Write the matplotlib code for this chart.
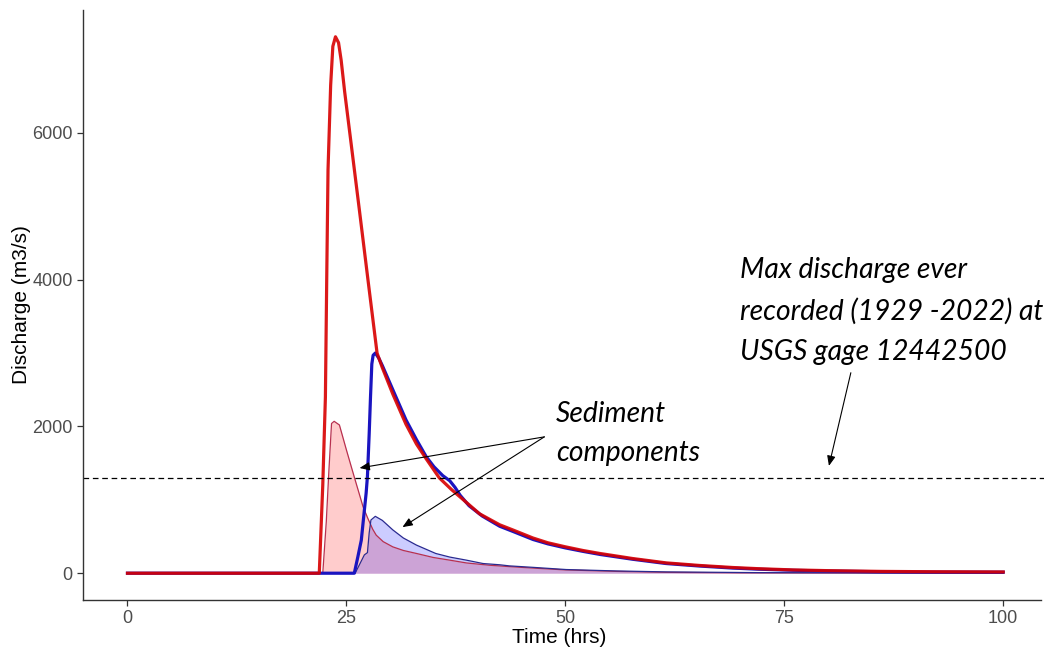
import matplotlib
matplotlib.use("Agg")
import matplotlib.pyplot as plt
import numpy as np

# ---- data ----
red_t = [0, 21.9, 22.3, 22.6, 22.75, 22.9, 23.2, 23.45, 23.75, 24.1, 24.4, 24.8, 25.5,
         26.5, 27.5, 28.0, 28.5, 29.1, 30.3, 31.8, 33.0, 34.1, 35.6, 37.0, 38.6, 40.2,
         42.5, 44.0, 46.3, 48.0, 50.0, 52.0, 53.9, 57.7, 61.5, 65.3, 69.1, 72.0, 76.0, 80.0,
         86.0, 92.0, 100.0]
red_q = [0, 0, 1200, 2400, 4000, 5500, 6650, 7180, 7310, 7230, 6990, 6560, 5890,
         4930, 3960, 3480, 3000, 2800, 2440, 2030, 1760, 1560, 1300, 1140, 975, 810,
         660, 590, 480, 415, 360, 310, 270, 200, 141, 106, 78, 62, 45, 35,
         25, 20, 17]

blue_t = [0, 25.9, 26.3, 26.7, 27.05, 27.25, 27.4, 27.6, 27.75, 27.9, 28.05, 28.3, 28.7,
          29.1, 30.3, 31.8, 33.0, 34.1, 35.0, 36.0, 36.8, 37.4, 38.0, 39.0, 40.5, 42.5,
          44.0, 46.3, 48.0, 50.0, 52.0, 54.0, 57.7, 61.5, 65.3, 69.1, 72.0, 76.0, 80.0,
          86.0, 92.0, 100.0]
blue_q = [0, 0, 220, 450, 860, 1090, 1320, 1900, 2400, 2850, 2970, 3000, 2930,
          2830, 2500, 2090, 1820, 1590, 1450, 1330, 1260, 1170, 1060, 920, 780, 640,
          570, 460, 400, 345, 298, 255, 190, 132, 98, 70, 55, 40, 30,
          20, 16, 14]

red_sed_t = [0, 22.3, 22.7, 23.0, 23.3, 23.6, 24.2, 25.0, 25.9, 26.9, 27.4, 28.0, 28.4, 29.2,
             30.3, 31.5, 33.0, 34.9, 36.8, 38.7, 41.3, 43.6, 46.3, 50.0, 55.8, 61.5, 70.0, 100.0]
red_sed_q = [0, 0, 700, 1400, 2040, 2070, 2020, 1680, 1310, 906, 760, 600, 519, 430,
             359, 310, 269, 215, 178, 140, 109, 90, 70, 45, 25, 12, 5, 0]

blue_sed_t = [0, 26.0, 27.05, 27.4, 27.6, 27.8, 28.3, 29.1, 30.3, 31.5, 33.0, 35.2, 36.8,
              38.7, 40.6, 42.5, 43.6, 46.3, 50.1, 55.8, 61.5, 72.0, 100.0]
blue_sed_q = [0, 0, 250, 280, 550, 725, 775, 720, 590, 480, 383, 269, 220,
              178, 132, 115, 100, 80, 50, 31, 18, 8, 0]

max_recorded = 1300

x_ticks = [0, 25, 50, 75, 100]
y_ticks = [0, 2000, 4000, 6000]

# ---- figure ----
W, H = 1044, 652
fig = plt.figure(figsize=(W / 100, H / 100), dpi=100)
ax = fig.add_axes([83 / W, 52 / H, (1047 - 83) / W, (600 - 10) / H])

ax.fill_between(red_sed_t, red_sed_q, 0, color="#ff0000", alpha=0.2, linewidth=0)
ax.fill_between(blue_sed_t, blue_sed_q, 0, color="#0000ff", alpha=0.2, linewidth=0)
ax.plot(red_sed_t, red_sed_q, color="#b8304f", lw=0.9)
ax.plot(blue_sed_t, blue_sed_q, color="#2a2a90", lw=0.9)

ax.plot(blue_t, blue_q, color="#1a14c0", lw=2.3, solid_joinstyle="round")
ax.plot(red_t, red_q, color="#d80000", lw=2.3, alpha=0.9, solid_joinstyle="round")

ax.axhline(max_recorded, color="black", lw=0.9, ls=(0, (4.5, 3)))

ax.set_xlim(-5.08, 105)
ax.set_ylim(-365, 7675)
ax.set_xticks(x_ticks)
ax.set_yticks(y_ticks)
ax.set_xticklabels([str(v) for v in x_ticks])
ax.set_yticklabels([str(v) for v in y_ticks])

for s in ["top", "right"]:
    ax.spines[s].set_visible(False)
for s in ["left", "bottom"]:
    ax.spines[s].set_color("#333333")
    ax.spines[s].set_linewidth(1.0)
ax.spines["bottom"].set_bounds(-5.08, 104.3)
ax.tick_params(axis="both", length=4, width=0.9, color="#333333",
               labelcolor="#4d4d4d", labelsize=13)
for lab in ax.get_xticklabels() + ax.get_yticklabels():
    lab.set_fontfamily("Liberation Sans")

ax.set_xlabel("Time (hrs)", fontsize=15, family="Liberation Sans")
ax.xaxis.set_label_coords((559 - 83) / (1047 - 83), -0.047)
ax.set_ylabel("Discharge (m3/s)", fontsize=15, family="Liberation Sans", labelpad=1)

anno_font = dict(family="Lato", style="italic", fontsize=20.3, color="black")

ax.text(48.9, 1906, "Sediment\ncomponents", ha="left", va="center",
        linespacing=1.62, **anno_font)
ax.text(70.0, 3579, "Max discharge ever\nrecorded (1929 -2022) at\nUSGS gage 12442500",
        ha="left", va="center", linespacing=1.68, **anno_font)

arrow_kw = dict(arrowstyle="-|>,head_length=0.6,head_width=0.25", color="black",
                lw=0.8, shrinkA=0, shrinkB=0)
ax.annotate("", xy=(26.5, 1434), xytext=(47.6, 1858), arrowprops=arrow_kw)
ax.annotate("", xy=(31.4, 628), xytext=(47.6, 1858), arrowprops=arrow_kw)
ax.annotate("", xy=(80.1, 1462), xytext=(82.6, 2732), arrowprops=arrow_kw)

fig.savefig("out.png", dpi=100)
